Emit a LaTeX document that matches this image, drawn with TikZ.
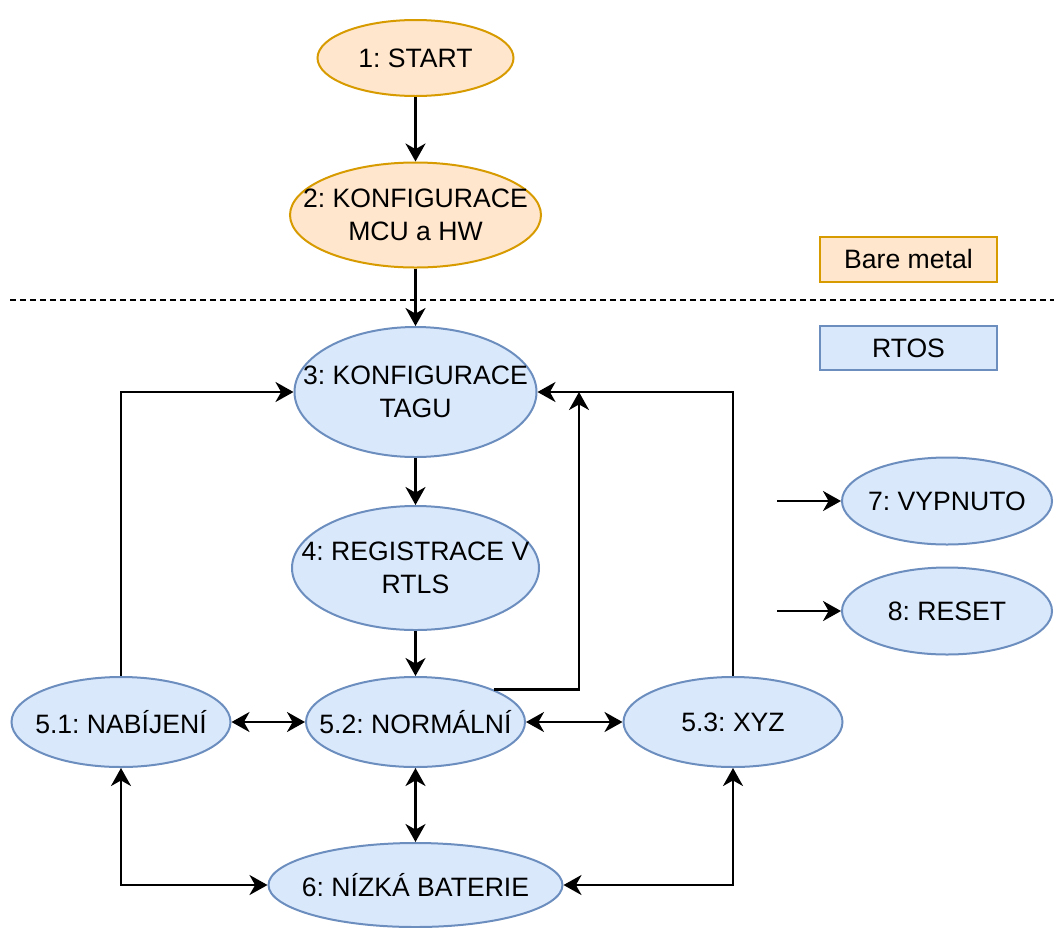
\documentclass[tikz,border=0pt]{standalone}
\usepackage{fontspec}
\setmainfont{Liberation Sans}
\usetikzlibrary{shapes.geometric,arrows.meta}
\definecolor{orfill}{HTML}{FFE6CC}
\definecolor{ordraw}{HTML}{D79B00}
\definecolor{blfill}{HTML}{DAE8FC}
\definecolor{bldraw}{HTML}{6C8EBF}
\tikzset{
  txt/.style={font=\fontsize{13.3}{16.5}\selectfont\frenchspacing, align=center, inner sep=0pt},
  base/.style={txt, line width=1pt},
  orell/.style={base, ellipse, draw=ordraw, fill=orfill},
  blell/.style={base, ellipse, draw=bldraw, fill=blfill},
  orbox/.style={base, rectangle, draw=ordraw, fill=orfill, minimum width=88.5pt, minimum height=22.5pt},
  blbox/.style={base, rectangle, draw=bldraw, fill=blfill, minimum width=88.5pt, minimum height=22pt},
  tip/.tip={Stealth[length=9pt,width=10pt,inset=2.8pt]},
  conn/.style={line width=1.25pt, black, -tip},
  bconn/.style={line width=1.25pt, black, tip-tip},
  lab/.style={label={[txt]center:{#1}}},
}
\begin{document}
\begin{tikzpicture}[x=0.5pt,y=-0.5pt]
\useasboundingbox (0,0) rectangle (1054,927);
% nodes
\node[orell, minimum width=98pt, minimum height=38pt, lab={1: START}] (n1) at (415.5,58) {};
\node[orell, minimum width=125.5pt, minimum height=52.5pt, lab={2: KONFIGURACE\\MCU a HW}] (n2) at (415.5,215) {};
\node[orbox] (bm) at (908.5,259) {Bare metal};
\node[blbox] (rt) at (908.5,348) {RTOS};
\node[blell, minimum width=121pt, minimum height=65pt, lab={3: KONFIGURACE\\TAGU}] (n3) at (415.5,392) {};
\node[blell, minimum width=123.5pt, minimum height=62pt, lab={4: REGISTRACE V\\RTLS}] (n4) at (415.5,568) {};
\node[blell, minimum width=109.5pt, minimum height=45pt, lab={5.1: NABÍJENÍ}] (n51) at (121,722) {};
\node[blell, minimum width=109.5pt, minimum height=45pt, lab={5.2: NORMÁLNÍ}] (n52) at (415.5,722) {};
\node[blell, minimum width=109.5pt, minimum height=45pt, lab={5.3: XYZ}] (n53) at (733,722) {};
\node[blell, minimum width=147pt, minimum height=42pt, lab={6: NÍZKÁ BATERIE}] (n6) at (415.5,885) {};
\node[blell, minimum width=105pt, minimum height=43.5pt, lab={7: VYPNUTO}] (n7) at (947,501) {};
\node[blell, minimum width=105pt, minimum height=43.5pt, lab={8: RESET}] (n8) at (947,611) {};
% dashed separator
\draw[line width=1pt, dash pattern=on 3pt off 2pt] (10,300) -- (1054,300);
% coordinates
\coordinate (j) at (579,392);
\coordinate (a7) at (777,501);
\coordinate (a8) at (777,611);
% connectors
\draw[conn] (n1) -- (n2);
\draw[conn] (n2) -- (n3);
\draw[conn] (n3) -- (n4);
\draw[conn] (n4) -- (n52);
\draw[bconn] (n51) -- (n52);
\draw[bconn] (n52) -- (n53);
\draw[bconn] (n52) -- (n6);
\draw[conn] (n51.north) |- (n3.west);
\draw[conn] (n52.north east) -| (j);
\draw[conn] (n53.north) |- (n3.east);
\draw[bconn] (n6.west) -| (n51.south);
\draw[bconn] (n6.east) -| (n53.south);
\draw[conn] (a7) -- (n7);
\draw[conn] (a8) -- (n8);
\end{tikzpicture}
\end{document}
